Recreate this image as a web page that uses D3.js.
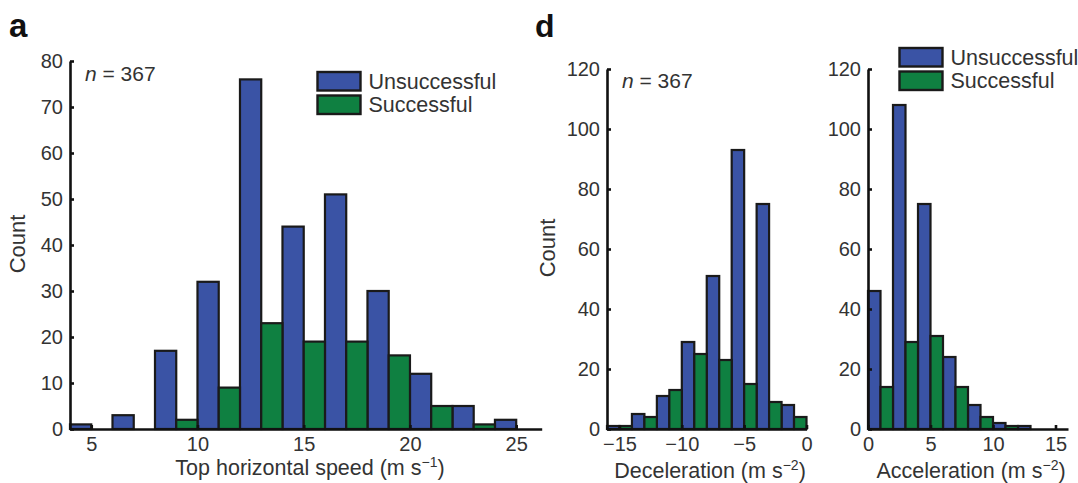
<!DOCTYPE html>
<html>
<head>
<meta charset="utf-8">
<script src="https://cdn.jsdelivr.net/npm/d3@7"></script>
<style>
  body { margin: 0; background: #fff; }
  svg text { font-family: "Liberation Sans", Arial, sans-serif; fill: #333; }
</style>
</head>
<body>
<svg id="chart" width="1078" height="483"></svg>
<script>
// panel a: top horizontal speed, bins 2 m/s wide (centres)
var speedBins = [5, 7, 9, 11, 13, 15, 17, 19, 21, 23, 25];
var speedUnsuccessful = [1, 3, 17, 32, 76, 44, 51, 30, 12, 5, 2];
var speedSuccessful   = [0, 0, 2, 9, 23, 19, 19, 16, 5, 1, 0];
var speedTicks = [5, 10, 15, 20, 25];
var speedYTicks = [0, 10, 20, 30, 40, 50, 60, 70, 80];

// panel d left: deceleration
var decelBins = [-15, -13, -11, -9, -7, -5, -3, -1];
var decelUnsuccessful = [1, 5, 11, 29, 51, 93, 75, 8];
var decelSuccessful   = [1, 4, 13, 25, 23, 15, 9, 4];
var decelTicks = [-15, -10, -5, 0];

// panel d right: acceleration
var accelBins = [1, 3, 5, 7, 9, 11, 13, 15];
var accelUnsuccessful = [46, 108, 75, 24, 8, 2, 1, 0];
var accelSuccessful   = [14, 29, 31, 14, 4, 1, 0, 0];
var accelTicks = [0, 5, 10, 15];
var countTicks = [0, 20, 40, 60, 80, 100, 120];

var seriesNames = ["Unsuccessful", "Successful"];
var colors = ["#3a53a5", "#0f8041"];

var svg = d3.select("#chart");

function panel(opt) {
  var g = svg.append("g");
  var x = d3.scaleLinear().domain(opt.xDomain).range(opt.xRange);
  var y = d3.scaleLinear().domain(opt.yDomain).range([429, opt.yTop]);

  // blue takes the left half of each 2-unit bin, green the right half
  [opt.un, opt.su].forEach(function(vals, s) {
    var data = opt.bins.map(function(c, i) { return {c: c, v: vals[i]}; })
                       .filter(function(d) { return d.v > 0; });
    g.selectAll(".bar" + s)
      .data(data)
      .enter().append("rect")
      .attr("x", d => x(s == 0 ? d.c - 1 : d.c))
      .attr("width", d => x(d.c + 1) - x(d.c))
      .attr("y", d => y(d.v))
      .attr("height", d => y(0) - y(d.v))
      .attr("fill", colors[s])
      .attr("stroke", "#1a1a1a")
      .attr("stroke-width", 2.2);
  });

  var xAxis = g.append("g")
    .attr("transform", "translate(0," + y(0) + ")")
    .call(d3.axisBottom(x).tickValues(opt.xTicks).tickSizeInner(-4).tickSizeOuter(0).tickPadding(8));
  var yAxis = g.append("g")
    .attr("transform", "translate(" + x(opt.xDomain[0]) + ",0)")
    .call(d3.axisLeft(y).tickValues(opt.yTicks).tickSizeInner(-4).tickSizeOuter(0).tickPadding(7));

  [xAxis, yAxis].forEach(function(a) {
    a.attr("font-size", 20).attr("font-family", "Liberation Sans, Arial, sans-serif");
    a.select(".domain").attr("stroke", "#111").attr("stroke-width", 2.6);
    a.selectAll(".tick line").attr("stroke", "#111").attr("stroke-width", 2.6);
    a.selectAll(".tick text").attr("fill", "#333");
  });
  return {g: g, x: x, y: y};
}

function addN(x, yb) {
  var t = svg.append("text").attr("x", x).attr("y", yb).attr("font-size", 21);
  t.append("tspan").attr("font-style", "italic").text("n");
  t.append("tspan").text(" = 367");
}

function addLegend(x, y) {
  seriesNames.forEach(function(name, i) {
    svg.append("rect")
      .attr("x", x).attr("y", y + i * 23.5)
      .attr("width", 43).attr("height", 18.5)
      .attr("fill", colors[i]).attr("stroke", "#1a1a1a").attr("stroke-width", 2.4);
    svg.append("text")
      .attr("x", x + 51).attr("y", y + i * 23.5 + 16.5)
      .attr("font-size", 21.5).text(name);
  });
}

function addXLabel(cx, yb, main, sup) {
  var t = svg.append("text").attr("x", cx).attr("y", yb).attr("text-anchor", "middle").attr("font-size", 21.5);
  t.append("tspan").text(main);
  t.append("tspan").attr("font-size", 14).attr("dy", -8).text(sup);
  t.append("tspan").attr("dy", 8).text(")");
}

function addCount(cx, cy) {
  svg.append("text")
    .attr("transform", "translate(" + cx + "," + cy + ") rotate(-90)")
    .attr("text-anchor", "middle").attr("font-size", 22).text("Count");
}

// panel a
panel({bins: speedBins, un: speedUnsuccessful, su: speedSuccessful,
       xDomain: [4, 26.2], xRange: [70, 541.7], xTicks: speedTicks,
       yDomain: [0, 80], yTop: 61, yTicks: speedYTicks});
// panel d
panel({bins: decelBins, un: decelUnsuccessful, su: decelSuccessful,
       xDomain: [-16, 0], xRange: [607, 806.5], xTicks: decelTicks,
       yDomain: [0, 120], yTop: 69, yTicks: countTicks});
panel({bins: accelBins, un: accelUnsuccessful, su: accelSuccessful,
       xDomain: [0, 16], xRange: [868, 1068], xTicks: accelTicks,
       yDomain: [0, 120], yTop: 69, yTicks: countTicks});

svg.append("text").attr("x", 9).attr("y", 37).attr("font-size", 33).attr("font-weight", "bold").style("fill", "#111").text("a");
svg.append("text").attr("x", 535).attr("y", 37).attr("font-size", 32).attr("font-weight", "bold").style("fill", "#111").text("d");

addN(85, 81);
addN(622, 88);
addLegend(317.5, 72);
addLegend(899.5, 48);

addCount(25, 244);
addCount(555, 248);
addXLabel(310, 475, "Top horizontal speed (m s", "−1");
addXLabel(710, 478, "Deceleration (m s", "−2");
addXLabel(971, 478, "Acceleration (m s", "−2");
</script>
</body>
</html>
